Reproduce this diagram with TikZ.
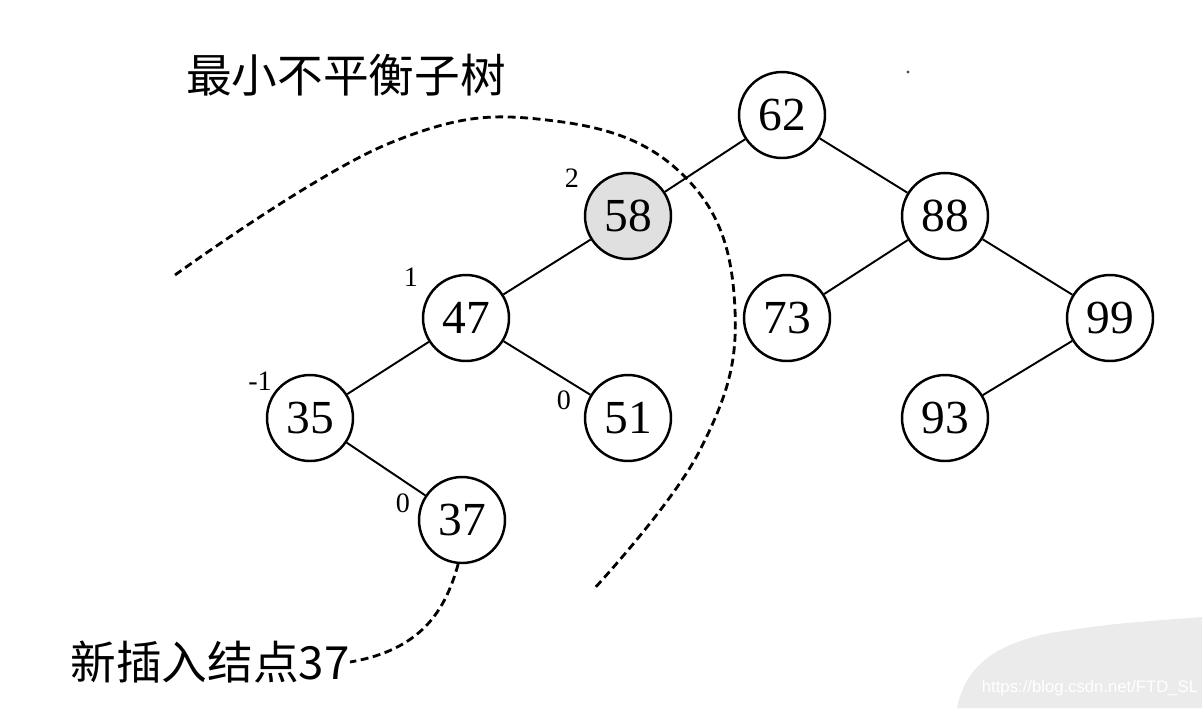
\documentclass[tikz,border=0pt]{standalone}
\usepackage{fontspec}
\setmainfont{Liberation Serif}
\newfontfamily\cjkfont{Noto Sans CJK SC}
\newfontfamily\wmfont{Liberation Sans}
\usepackage{xcolor}
\usetikzlibrary{positioning}

\begin{document}
\begin{tikzpicture}[
  x=0.02cm, y=-0.02cm,
  treenode/.style={circle, draw, line width=1.4pt, minimum size=1.72cm,
    inner sep=0pt, font=\fontsize{27}{30}\selectfont},
  bal/.style={font=\fontsize{16}{18}\selectfont, inner sep=0pt},
  edge/.style={line width=1.1pt},
  hint/.style={line width=1.6pt, dash pattern=on 4.5pt off 2.6pt},
  caption/.style={font=\cjkfont\fontsize{26}{30}\selectfont, inner sep=0pt}
]
  \useasboundingbox (0,0) rectangle (1202,708);

  % watermark in the corner
  \fill[black!8] (957,708) .. controls (965,668) and (992,645) .. (1050,633)
    .. controls (1110,624) .. (1202,617) -- (1202,708) -- cycle;
  \node[text=white, font=\wmfont\fontsize{9.5}{11}\selectfont] (wm) at (1090,688)
    {https://blog.csdn.net/FTD\_SL};
  \fill[black!70] (908,72) circle (1.6);

  % tree
  \node[treenode] (n62) at (782,115) {62};
  \node[treenode, fill=black!12] (n58) at (628,216) {58};
  \node[treenode] (n88) at (945,216) {88};
  \node[treenode] (n47) at (466,318) {47};
  \node[treenode] (n73) at (787,318) {73};
  \node[treenode] (n99) at (1110,318) {99};
  \node[treenode] (n35) at (310,418) {35};
  \node[treenode] (n51) at (628,418) {51};
  \node[treenode] (n93) at (945,418) {93};
  \node[treenode] (n37) at (462,520) {37};

  \draw[edge] (n62) -- (n58);
  \draw[edge] (n62) -- (n88);
  \draw[edge] (n58) -- (n47);
  \draw[edge] (n47) -- (n35);
  \draw[edge] (n47) -- (n51);
  \draw[edge] (n35) -- (n37);
  \draw[edge] (n88) -- (n73);
  \draw[edge] (n88) -- (n99);
  \draw[edge] (n99) -- (n93);

  % balance factors
  \node[bal] (b58) at (572,178) {2};
  \node[bal] (b47) at (411,277) {1};
  \node[bal] (b35) at (260,381) {-1};
  \node[bal] (b51) at (564,400) {0};
  \node[bal] (b37) at (403,503) {0};

  % labels
  \node[caption] (subtree) at (346,75) {最小不平衡子树};
  \node[caption, anchor=east] (newnode) at (350,662) {新插入结点37};

  \draw[hint] plot[smooth, tension=0.7] coordinates {
    (175,275) (390,143) (555,121) (688,180) (735,310) (700,450) (593,590)};
  \draw[hint] (n37.-95) .. controls (445,612) and (420,650) .. (newnode.east);
\end{tikzpicture}
\end{document}
